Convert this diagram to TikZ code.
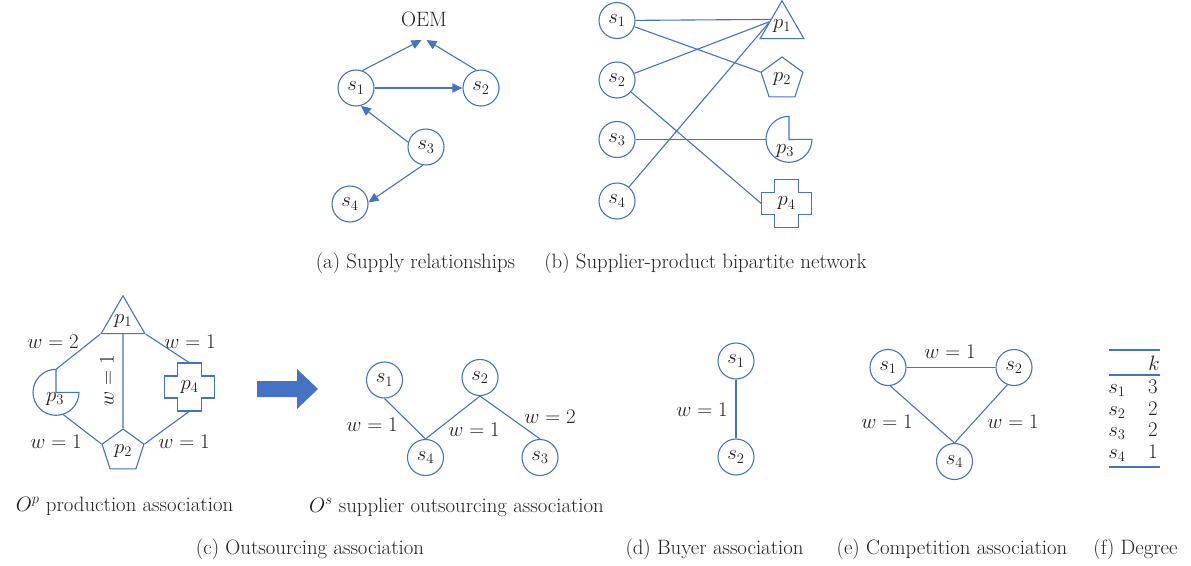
\RequirePackage{fix-cm}
\documentclass[tikz,border=0pt]{standalone}
\usetikzlibrary{shapes.geometric,arrows.meta,calc}
\definecolor{eblue}{HTML}{4472C4}
\definecolor{etext}{HTML}{231F20}
\begin{document}
\begin{tikzpicture}[x=1pt,y=1pt,
  every node/.style={font=\fontsize{20.8}{24}\selectfont, text=etext},
  conn/.style={draw=eblue,line width=1.1pt},
  arr/.style={conn,-{Triangle[length=10pt,width=9pt]}},
  snode/.style={circle,draw=eblue,line width=1.1pt,minimum size=36pt,inner sep=0pt},
  tri/.style={regular polygon,regular polygon sides=3,draw=eblue,line width=1.1pt,minimum size=47pt,inner sep=0pt},
  pent/.style={regular polygon,regular polygon sides=5,draw=eblue,line width=1.1pt,minimum size=44pt,inner sep=0pt},
  crossbox/.style={rectangle,minimum width=50pt,minimum height=48pt,inner sep=0pt},
  pacbox/.style={circle,minimum size=46pt,inner sep=0pt},
  crossline/.style={draw=eblue,line width=1.1pt},
  captxt/.style={anchor=base},
  wl/.style={inner sep=1pt}
]
\useasboundingbox (0,0) rectangle (1191,-565);

% ---------- (a) Supply relationships ----------
\node (oem) at (424,-19) {OEM};
\node[snode] (a1) at (356,-88) {$s_1$};
\node[snode] (a2) at (481,-88) {$s_2$};
\node[snode] (a3) at (426,-147) {$s_3$};
\node[snode] (a4) at (350,-204) {$s_4$};
\draw[arr] (a1.70) -- ($(oem.center)+(-2.5,-21)$);
\draw[arr] (a2.105) -- ($(oem.center)+(2.5,-21)$);
\draw[arr] (a1) -- (a2);
\draw[arr] (a3.165) -- (a1.-75);
\draw[arr] (a3.-100) -- (a4.5);
\node[captxt] (capa) at (415.5,-268) {(a) Supply relationships};

% ---------- (b) bipartite network ----------
\node[snode] (b1) at (617,-20.5) {$s_1$};
\node[snode] (b2) at (617,-80) {$s_2$};
\node[snode] (b3) at (617,-139.5) {$s_3$};
\node[snode] (b4) at (617,-201) {$s_4$};
\node[tri] (bp1) at (782,-26) {$p_1$};
\node[pent] (bp2) at (782,-79) {$p_2$};
\node[pacbox] (bp3) at (789,-139.5) {};
\draw[crossline] (bp3.center) -- (bp3.north) arc[start angle=90,end angle=360,radius=23pt] -- cycle;
\node (bp3l) at (785,-151) {$p_3$};
\node[crossbox] (bp4) at (786.5,-203.5) {$p_4$};
\begin{scope}[shift={(bp4.center)}]
\draw[crossline] (-12,24) -- (12,24) -- (12,11) -- (25,11) -- (25,-11) -- (12,-11) -- (12,-24) -- (-12,-24) -- (-12,-11) -- (-25,-11) -- (-25,11) -- (-12,11) -- cycle;
\end{scope}
\draw[conn] (b1) -- ($(bp1.corner 1)!0.5!(bp1.corner 2)$);
\draw[conn] (b1) -- (bp2.corner 2);
\draw[conn] (b2) -- ($(bp1.corner 1)!0.56!(bp1.corner 2)$);
\draw[conn] (b2) -- (bp4.west);
\draw[conn] (b3) -- (bp3);
\draw[conn] (b4) -- ($(bp1.corner 1)!0.6!(bp1.corner 2)$);
\node[captxt] (capb) at (705.5,-268) {(b) Supplier-product bipartite network};

% ---------- (c) production association ----------
\node[tri] (cp1) at (123,-321) {$p_1$};
\node[pent] (cp2) at (123,-451) {$p_2$};
\node[pacbox] (cp3) at (56,-392.5) {};
\draw[crossline] (cp3.center) -- (cp3.north) arc[start angle=90,end angle=360,radius=23pt] -- cycle;
\node (cp3l) at (55,-399) {$p_3$};
\node[crossbox] (cp4) at (189.5,-387) {$p_4$};
\begin{scope}[shift={(cp4.center)}]
\draw[crossline] (-12,24) -- (12,24) -- (12,11) -- (25,11) -- (25,-11) -- (12,-11) -- (12,-24) -- (-12,-24) -- (-12,-11) -- (-25,-11) -- (-25,11) -- (-12,11) -- cycle;
\end{scope}
\draw[conn] (cp1.corner 2) -- (cp3.north);
\draw[conn] (cp3.-72) -- (cp2.corner 2);
\draw[conn] (cp1.corner 3) -- (cp4.north);
\draw[conn] (cp4.south) -- (cp2.corner 5);
\draw[conn] (cp1.south) -- (cp2.corner 1);
\node[wl] (cw1) at (53,-342) {$w=2$};
\node[wl] (cw2) at (190,-342) {$w=1$};
\node[wl,rotate=90] (cw3) at (107,-381) {$w=1$};
\node[wl] (cw4) at (56,-442) {$w=1$};
\node[wl] (cw5) at (184,-442) {$w=1$};
\node[captxt] (capop) at (124.5,-511) {$O^p$ production association};

% big arrow
\fill[eblue] (257,-381) -- (297,-381) -- (297,-369) -- (318,-389) -- (297,-409) -- (297,-397) -- (257,-397) -- cycle;

% ---------- (c) supplier outsourcing association ----------
\node[snode] (o1) at (384.5,-380) {$s_1$};
\node[snode] (o2) at (480,-377.5) {$s_2$};
\node[snode] (o4) at (425.5,-457.5) {$s_4$};
\node[snode] (o3) at (540,-457.5) {$s_3$};
\draw[conn] (o1.south) -- (o4.north);
\draw[conn] (o2.south) -- (o4.north);
\draw[conn] (o2.south) -- (o3.north);
\node[wl] (ow1) at (372,-425) {$w=1$};
\node[wl] (ow2) at (474,-430) {$w=1$};
\node[wl] (ow3) at (550,-417) {$w=2$};
\node[captxt] (capos) at (456.5,-512) {$O^s$ supplier outsourcing association};
\node[captxt] (capc) at (310,-554) {(c) Outsourcing association};

% ---------- (d) buyer association ----------
\node[snode] (d1) at (736,-361) {$s_1$};
\node[snode] (d2) at (736,-457) {$s_2$};
\draw[conn] (d1) -- (d2);
\node[wl] (dw) at (702,-410) {$w=1$};
\node[captxt] (capd) at (714.5,-554) {(d) Buyer association};

% ---------- (e) competition association ----------
\node[snode] (e1) at (888,-367.5) {$s_1$};
\node[snode] (e2) at (1014,-367.5) {$s_2$};
\node[snode] (e4) at (954.5,-461.5) {$s_4$};
\draw[conn] (e1) -- (e2);
\draw[conn] (e1.-83) -- (e4.north);
\draw[conn] (e2.-111) -- (e4.north);
\node[wl] (ew1) at (950,-352) {$w=1$};
\node[wl] (ew2) at (887,-422) {$w=1$};
\node[wl] (ew3) at (1013,-422) {$w=1$};
\node[captxt] (cape) at (952,-554) {(e) Competition association};

% ---------- (f) degree ----------
\draw[conn] (1109,-350) -- (1160,-350);
\draw[conn] (1109,-375) -- (1160,-375);
\draw[conn] (1109,-467) -- (1160,-467);
\node[captxt] (fk) at (1154,-370) {$k$};
\node[captxt] (fs1) at (1117,-393) {$s_1$};
\node[captxt] (fs2) at (1117,-415) {$s_2$};
\node[captxt] (fs3) at (1117,-436.5) {$s_3$};
\node[captxt] (fs4) at (1117,-458) {$s_4$};
\node[captxt] (fv1) at (1153,-393) {3};
\node[captxt] (fv2) at (1153,-415) {2};
\node[captxt] (fv3) at (1153,-436.5) {2};
\node[captxt] (fv4) at (1153,-458) {1};
\node[captxt] (capf) at (1135.5,-554) {(f) Degree};
\end{tikzpicture}
\end{document}
